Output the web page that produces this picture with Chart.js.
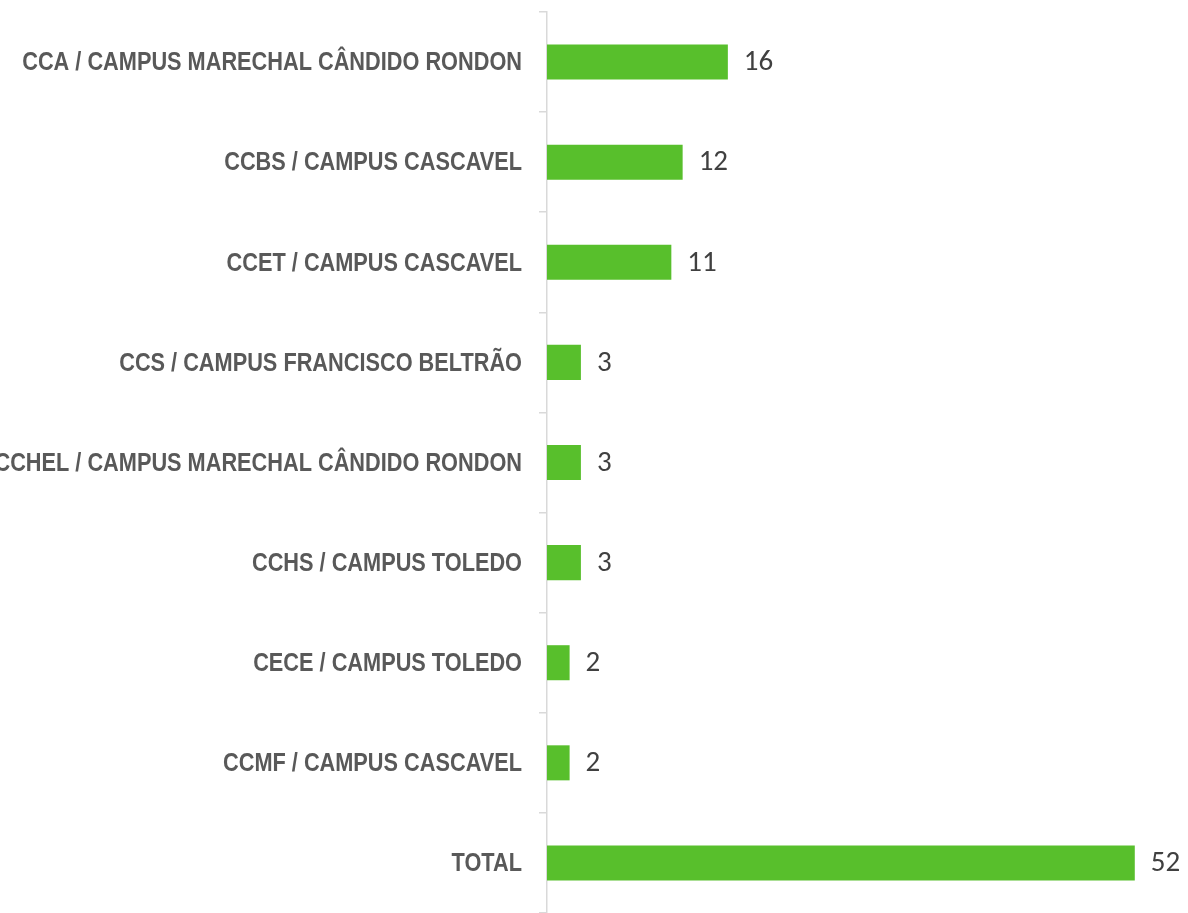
<!DOCTYPE html>
<html>
<head>
<meta charset="utf-8">
<script src="https://cdn.jsdelivr.net/npm/chart.js@4"></script>
<style>
html,body{margin:0;padding:0;background:#fff;overflow:hidden;}
#wrap{width:1188px;height:913px;position:relative;}
</style>
</head>
<body>
<div id="wrap"><canvas id="c" width="1188" height="913"></canvas></div>
<script>
const categories = [
  "CCA / CAMPUS MARECHAL CÂNDIDO RONDON",
  "CCBS / CAMPUS CASCAVEL",
  "CCET / CAMPUS CASCAVEL",
  "CCS / CAMPUS FRANCISCO BELTRÃO",
  "CCHEL / CAMPUS MARECHAL CÂNDIDO RONDON",
  "CCHS / CAMPUS TOLEDO",
  "CECE / CAMPUS TOLEDO",
  "CCMF / CAMPUS CASCAVEL",
  "TOTAL"
];
const values = [16, 12, 11, 3, 3, 3, 2, 2, 52];

// value labels to the right of each bar
const valueLabels = {
  id: 'valueLabels',
  afterDatasetsDraw(chart) {
    const ctx = chart.ctx;
    const meta = chart.getDatasetMeta(0);
    ctx.save();
    ctx.font = '29px Carlito, Lato, "Open Sans", sans-serif';
    ctx.fillStyle = '#404040';
    ctx.textAlign = 'left';
    ctx.textBaseline = 'middle';
    meta.data.forEach((bar, i) => {
      ctx.fillText(String(values[i]), bar.x + 16, bar.y + 1);
    });
    ctx.restore();
  }
};

// condensed bold category labels (narrow style), right-aligned to the axis
const categoryLabels = {
  id: 'categoryLabels',
  afterDraw(chart) {
    const ctx = chart.ctx;
    const ys = chart.scales.y;
    const right = ys.right - 8 - 17;
    ctx.save();
    ctx.font = 'bold 26.5px "Liberation Sans", Arial, sans-serif';
    ctx.fillStyle = '#595959';
    ctx.textAlign = 'right';
    ctx.textBaseline = 'middle';
    categories.forEach((lab, i) => {
      const y = ys.getPixelForTick(i);
      ctx.save();
      ctx.translate(right, y + 1);
      ctx.scale(0.82, 1);
      ctx.fillText(lab, 0, 0);
      ctx.restore();
    });
    ctx.restore();
  }
};

new Chart(document.getElementById('c'), {
  type: 'bar',
  data: {
    labels: categories,
    datasets: [{
      data: values,
      backgroundColor: '#58BF2C',
      borderWidth: 0,
      barPercentage: 0.7,
      categoryPercentage: 0.5
    }]
  },
  options: {
    indexAxis: 'y',
    responsive: false,
    animation: false,
    layout: { padding: { top: 12, right: 8, bottom: -2, left: 0 } },
    plugins: { legend: { display: false }, tooltip: { enabled: false } },
    scales: {
      x: {
        display: false,
        min: 0,
        max: 56
      },
      y: {
        afterFit(scale) {
          scale.width = 547;
          scale.paddingTop = 0;
          scale.paddingBottom = 0;
        },
        border: { display: true, color: '#d9d9d9', width: 1.5 },
        grid: {
          display: true,
          drawOnChartArea: false,
          drawTicks: true,
          tickLength: 8,
          color: '#d9d9d9',
          lineWidth: 1.5
        },
        ticks: { display: false }
      }
    }
  },
  plugins: [valueLabels, categoryLabels]
});
</script>
</body>
</html>
